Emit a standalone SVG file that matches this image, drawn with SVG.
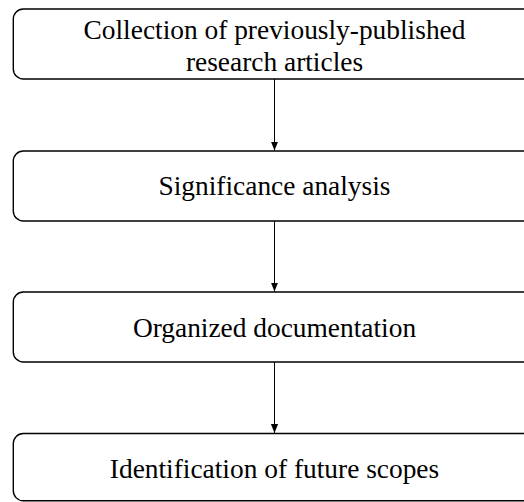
<svg xmlns="http://www.w3.org/2000/svg" width="524" height="502" viewBox="0 0 524 502">
<style>
.box{fill:#fff;stroke:#000;stroke-width:1.4}
.t{font-family:"Liberation Serif","Times New Roman",serif;font-size:27.4px;fill:#000;text-anchor:middle}
.c{stroke:#000;stroke-width:1;fill:none}
</style>
<defs>
<marker id="ah" viewBox="0 0 10 10" refX="10" refY="5" markerUnits="userSpaceOnUse" markerWidth="9" markerHeight="9" orient="auto">
<path d="M0,1 L10,5 L0,9 Z" fill="#000"/>
</marker>
</defs>
<rect width="524" height="502" fill="#fff"/>
<g id="connectors">
<line class="c" x1="274.5" y1="79" x2="274.5" y2="150.5" marker-end="url(#ah)"/>
<line class="c" x1="274.5" y1="221" x2="274.5" y2="291.5" marker-end="url(#ah)"/>
<line class="c" x1="274.5" y1="362" x2="274.5" y2="433" marker-end="url(#ah)"/>
</g>
<g id="node1">
<rect class="box" x="13.3" y="9" width="523" height="70" rx="10"/>
<text class="t" x="274.5" y="38.5">Collection of previously-published</text>
<text class="t" x="274.5" y="71">research articles</text>
</g>
<g id="node2">
<rect class="box" x="13.3" y="151" width="523" height="70" rx="10"/>
<text class="t" x="274.5" y="194.5">Significance analysis</text>
</g>
<g id="node3">
<rect class="box" x="13.3" y="292" width="523" height="70" rx="10"/>
<text class="t" x="274.5" y="336.5">Organized documentation</text>
</g>
<g id="node4">
<rect class="box" x="13.3" y="433.5" width="523" height="67.3" rx="10"/>
<text class="t" x="274.5" y="477.8">Identification of future scopes</text>
</g>
</svg>
